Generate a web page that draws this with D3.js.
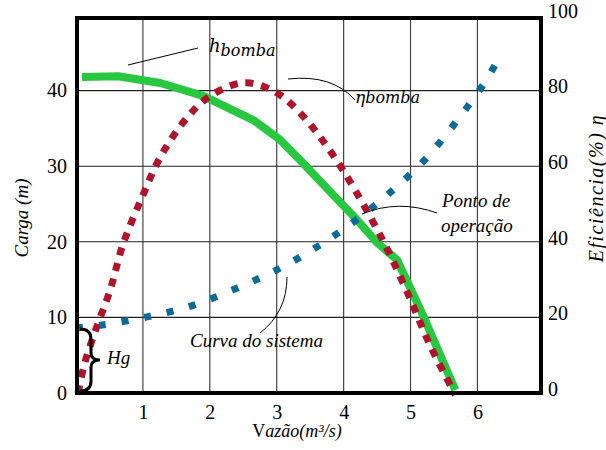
<!DOCTYPE html>
<html>
<head>
<meta charset="utf-8">
<script src="https://cdn.jsdelivr.net/npm/d3@7"></script>
<style>
  html, body { margin: 0; padding: 0; background: #fff; }
  svg { display: block; }
</style>
</head>
<body>
<div id="chart"></div>
<script>
// Curva da bomba x curva do sistema (ponto de operação)
const flowTicks = [1, 2, 3, 4, 5, 6];
const headTicks = [0, 10, 20, 30, 40];
const effTicks = [0, 20, 40, 60, 80, 100];

// h bomba (m)
const pumpFlow = [0.09, 0.63, 1.26, 1.9, 2.65, 3.05, 3.35, 3.92, 4.2, 4.51, 4.8, 4.99, 5.17, 5.39, 5.67];
const pumpHead = [41.8, 41.9, 41.0, 39.3, 36.1, 33.5, 30.8, 25.5, 22.9, 19.8, 17.6, 14.0, 10.6, 6.1, 0.4];

// eta bomba (%)
const effFlow = [0.03, 0.13, 0.31, 0.51, 0.70, 0.99, 1.26, 1.63, 1.96, 2.35, 2.6, 3.0, 3.38, 3.8, 4.17, 4.62, 4.95, 5.29, 5.67];
const effValues = [0, 7.9, 17.5, 27.2, 39.2, 51.9, 62.4, 72.2, 78.0, 81.5, 82.0, 79.4, 73.5, 64.0, 53.7, 39.2, 26.7, 12.7, -0.5];

// curva do sistema (m)
const sysFlow = [0.0, 0.39, 1.08, 1.75, 2.41, 3.05, 3.65, 4.22, 4.77, 5.26, 5.71, 6.11, 6.29];
const sysHead = [8.6, 9.0, 10.1, 11.6, 13.9, 16.5, 19.6, 23.1, 27.1, 31.3, 36.2, 41.1, 43.8];

const staticHead = 8.6;

const W = 606, H = 450;
const m = { left: 77, top: 18, right: 541, bottom: 393 };
const SERIF = 'Liberation Serif';
const MATH = 'DejaVu Serif';

const svg = d3.select('#chart').append('svg')
  .attr('width', W).attr('height', H);

const x = d3.scaleLinear().domain([0, 6.95]).range([m.left - 1, m.right]);
const yH = d3.scaleLinear().domain([0, 49.6]).range([m.bottom, m.top]);
const yE = d3.scaleLinear().domain([0, 99.2]).range([m.bottom, m.top]);

// Grid
const grid = svg.append('g');
flowTicks.forEach(v => {
  grid.append('line')
    .attr('x1', x(v)).attr('x2', x(v))
    .attr('y1', m.top).attr('y2', m.bottom)
    .attr('stroke', '#444').attr('stroke-width', 1.2);
});
headTicks.filter(v => v > 0).forEach(v => {
  grid.append('line')
    .attr('x1', m.left).attr('x2', m.right)
    .attr('y1', yH(v)).attr('y2', yH(v))
    .attr('stroke', '#222').attr('stroke-width', 1.1);
});

// Curves
const pumpLine = d3.line()
  .x(i => x(pumpFlow[i])).y(i => yH(pumpHead[i]))
  .curve(d3.curveLinear);
svg.append('path')
  .attr('d', pumpLine(d3.range(pumpFlow.length)))
  .attr('fill', 'none')
  .attr('stroke', '#27c840')
  .attr('stroke-width', 8)
  .attr('stroke-linejoin', 'round');

const effLine = d3.line()
  .x(i => x(effFlow[i])).y(i => yE(effValues[i]))
  .curve(d3.curveCatmullRom);
svg.append('path')
  .attr('d', effLine(d3.range(effFlow.length)))
  .attr('fill', 'none')
  .attr('stroke', '#b0142a')
  .attr('stroke-width', 7)
  .attr('stroke-dasharray', '8,8');

const sysLine = d3.line()
  .x(i => x(sysFlow[i])).y(i => yH(sysHead[i]))
  .curve(d3.curveCatmullRom);
svg.append('path')
  .attr('d', sysLine(d3.range(sysFlow.length)))
  .attr('fill', 'none')
  .attr('stroke', '#0a6b96')
  .attr('stroke-width', 7)
  .attr('stroke-dasharray', '7,16');

// Frame
svg.append('rect')
  .attr('x', m.left).attr('y', m.top)
  .attr('width', m.right - m.left).attr('height', m.bottom - m.top)
  .attr('fill', 'none')
  .attr('stroke', '#000')
  .attr('stroke-width', 4);

// Axes
const leftAxis = svg.append('g')
  .attr('transform', 'translate(67,0)')
  .call(d3.axisLeft(yH).tickValues(headTicks).tickSize(0).tickPadding(0));
const rightAxis = svg.append('g')
  .attr('transform', 'translate(548,0)')
  .call(d3.axisRight(yE).tickValues(effTicks).tickSize(0).tickPadding(0));
const bottomAxis = svg.append('g')
  .attr('transform', 'translate(0,405)')
  .call(d3.axisBottom(x).tickValues(flowTicks).tickFormat(d3.format('d')).tickSize(0).tickPadding(0));

[leftAxis, rightAxis, bottomAxis].forEach(a => {
  a.select('.domain').remove();
  a.selectAll('text')
    .attr('fill', '#000')
    .attr('font-family', SERIF)
    .attr('font-size', 20);
});
rightAxis.selectAll('text').attr('dy', '0.12em');

// Axis titles
svg.append('text')
  .attr('transform', 'translate(28,218) rotate(-90)')
  .attr('text-anchor', 'middle')
  .attr('font-family', SERIF)
  .attr('font-style', 'italic')
  .attr('font-size', 19)
  .text('Carga (m)');

svg.append('text')
  .attr('transform', 'translate(603,188) rotate(-90)')
  .attr('text-anchor', 'middle')
  .attr('font-family', SERIF)
  .attr('font-style', 'italic')
  .attr('font-size', 20)
  .attr('letter-spacing', 1.5)
  .text('Eficiência(%) η');

const xt = svg.append('text')
  .attr('x', 297).attr('y', 437)
  .attr('text-anchor', 'middle')
  .attr('font-family', SERIF)
  .attr('font-size', 18);
xt.append('tspan').text('V');
xt.append('tspan').attr('font-style', 'italic').text('azão(m³/s)');

// Annotations
const note = svg.append('g')
  .attr('fill', 'none')
  .attr('stroke', '#000')
  .attr('stroke-width', 1);
note.append('path').attr('d', 'M128,65 L198,48');
note.append('path').attr('d', 'M288,79 Q332,74 355,100');
note.append('path').attr('d', 'M362,214 Q398,199 437,213');
note.append('path').attr('d', 'M260,333 Q287,312 287,277');

const hb = svg.append('text')
  .attr('x', 209).attr('y', 52)
  .attr('font-family', MATH)
  .attr('font-style', 'italic');
hb.append('tspan').attr('font-size', 18).text('h');
hb.append('tspan').attr('font-size', 16).attr('dy', 4).text('bomba');

const eb = svg.append('text')
  .attr('x', 355).attr('y', 103)
  .attr('font-family', MATH)
  .attr('font-style', 'italic');
eb.append('tspan').attr('font-size', 17).text('η');
eb.append('tspan').attr('font-size', 16).text('bomba');

const po = svg.append('text')
  .attr('font-family', SERIF)
  .attr('font-style', 'italic')
  .attr('font-size', 19);
po.append('tspan').attr('x', 442).attr('y', 207).text('Ponto de');
po.append('tspan').attr('x', 441).attr('y', 232).text('operação');

svg.append('text')
  .attr('x', 190).attr('y', 347)
  .attr('font-family', SERIF)
  .attr('font-style', 'italic')
  .attr('font-size', 19)
  .text('Curva do sistema');

// Hg brace
const bTop = yH(staticHead) + 1, bBot = yH(0) - 2, bMid = (bTop + bBot) / 2;
svg.append('path')
  .attr('d', `M80,${bTop} Q91,${bTop} 91,${bTop + 10} L91,${bMid - 7} Q91,${bMid} 100,${bMid} Q91,${bMid} 91,${bMid + 7} L91,${bBot - 10} Q91,${bBot} 80,${bBot}`)
  .attr('fill', 'none')
  .attr('stroke', '#000')
  .attr('stroke-width', 3);

svg.append('text')
  .attr('x', 107).attr('y', 364)
  .attr('font-family', SERIF)
  .attr('font-style', 'italic')
  .attr('font-size', 19)
  .text('Hg');
</script>
</body>
</html>
